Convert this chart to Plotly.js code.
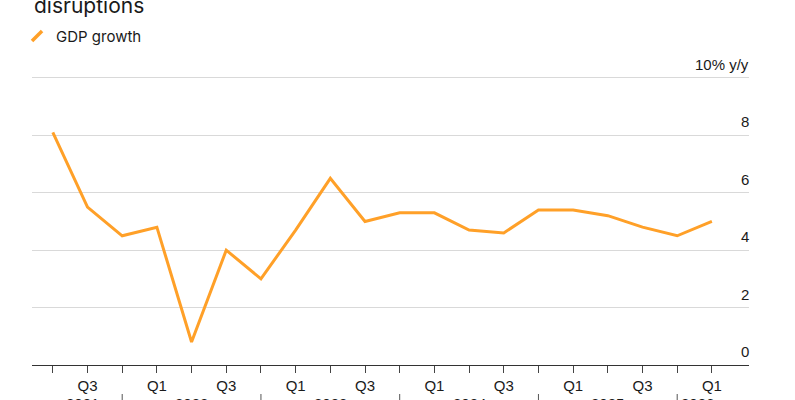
<!DOCTYPE html>
<html>
<head>
<meta charset="utf-8">
<script src="https://cdn.plot.ly/plotly-3.0.1.min.js"></script>
<style>
  html, body { margin: 0; padding: 0; background: #fff; }
  #chart { width: 795px; height: 400px; }
</style>
</head>
<body>
<div id="chart"></div>
<script>
// ---- data ----
const quarters = ['2021 Q2','2021 Q3','2021 Q4','2022 Q1','2022 Q2','2022 Q3','2022 Q4',
                  '2023 Q1','2023 Q2','2023 Q3','2023 Q4','2024 Q1','2024 Q2','2024 Q3','2024 Q4',
                  '2025 Q1','2025 Q2','2025 Q3','2025 Q4','2026 Q1'];
const gdpGrowth = [8.1, 5.5, 4.5, 4.8, 0.8, 4.0, 3.0, 4.7, 6.5, 5.0, 5.3, 5.3, 4.7, 4.6, 5.4, 5.4, 5.2, 4.8, 4.5, 5.0];
const yTickVals = [0, 2, 4, 6, 8, 10];
const yTickText = ['0', '2', '4', '6', '8', '10% y/y'];
const years = ['2021', '2022', '2023', '2024', '2025', '2026'];
const seriesName = 'GDP growth';
const titleText = 'disruptions';

// ---- styling ----
const ORANGE = '#FFA028';
const TXT = '#1a1a1a';
const FONT = 'Liberation Sans, Arial, sans-serif';
const FONT2 = 'Inter, Liberation Sans, sans-serif';

const qLabels = quarters.map(q => {
  const p = q.split(' ')[1];
  return (p === 'Q1' || p === 'Q3') ? p : '';
});

// year separators at the Q4 point of each year (as in the reference)
const sepIdx = [];
quarters.forEach((q, i) => { if (q.endsWith('Q4')) sepIdx.push(i); });

// plot area: 290 px tall (75..365)
const shapes = sepIdx.map(i => ({
  type: 'line', xref: 'x', yref: 'paper',
  x0: quarters[i], x1: quarters[i], y0: -0.1, y1: -0.14,
  line: { color: '#555', width: 1 }
}));
// legend glyph (diagonal stroke)
shapes.push({
  type: 'line', xref: 'paper', yref: 'paper',
  x0: 0.0, x1: 0.014, y0: 1.117, y1: 1.152,
  line: { color: ORANGE, width: 3.5 }
});

const yearAnn = years.map((y, k) => {
  let x, xanchor = 'center';
  if (k === 0) { x = 0.85; }
  else if (k < years.length - 1) { x = (sepIdx[k - 1] + sepIdx[k]) / 2; }
  else { x = sepIdx[k - 1] + 0.05; xanchor = 'left'; }
  return {
    xref: 'x', yref: 'paper', x: x, y: -0.096, yanchor: 'top', xanchor: xanchor,
    text: y, showarrow: false, font: { family: FONT, size: 15, color: TXT }
  };
});

const yLabAnn = yTickVals.map((v, i) => ({
  xref: 'paper', yref: 'y', x: 1, y: v, xanchor: 'right', yanchor: 'bottom',
  yshift: 3, xshift: 2,
  text: yTickText[i], showarrow: false, font: { family: FONT, size: 15, color: TXT }
}));

const annotations = yearAnn.concat(yLabAnn, [
  { xref: 'paper', yref: 'paper', x: 0, y: 1.19, xanchor: 'left', yanchor: 'bottom',
    text: titleText, showarrow: false, font: { family: FONT2, size: 21, color: TXT } },
  { xref: 'paper', yref: 'paper', x: 0.031, y: 1.134, xanchor: 'left', yanchor: 'middle',
    text: seriesName, showarrow: false, font: { family: FONT2, size: 15, color: TXT } }
]);

const trace = {
  x: quarters, y: gdpGrowth, type: 'scatter', mode: 'lines', name: seriesName,
  line: { color: ORANGE, width: 3 }, showlegend: false, hoverinfo: 'x+y'
};

const layout = {
  width: 795, height: 400,
  margin: { l: 32, r: 46, t: 75, b: 35 },
  paper_bgcolor: '#fff', plot_bgcolor: '#fff',
  showlegend: false,
  xaxis: {
    type: 'category', range: [-0.6, 20.07],
    tickmode: 'array', tickvals: quarters, ticktext: qLabels,
    ticks: 'outside', ticklen: 7, tickcolor: '#444', tickwidth: 1,
    showline: true, linecolor: '#333', linewidth: 1,
    showgrid: false, zeroline: false,
    tickfont: { family: FONT, size: 15, color: TXT }
  },
  yaxis: {
    side: 'right', range: [0, 10.1], fixedrange: true,
    tickmode: 'array', tickvals: yTickVals,
    showticklabels: false,
    showgrid: true, gridcolor: '#d9d9d9', gridwidth: 1,
    zeroline: false, showline: false, ticks: ''
  },
  shapes: shapes,
  annotations: annotations
};

Plotly.newPlot('chart', [trace], layout, { displayModeBar: false, staticPlot: true });
</script>
</body>
</html>
